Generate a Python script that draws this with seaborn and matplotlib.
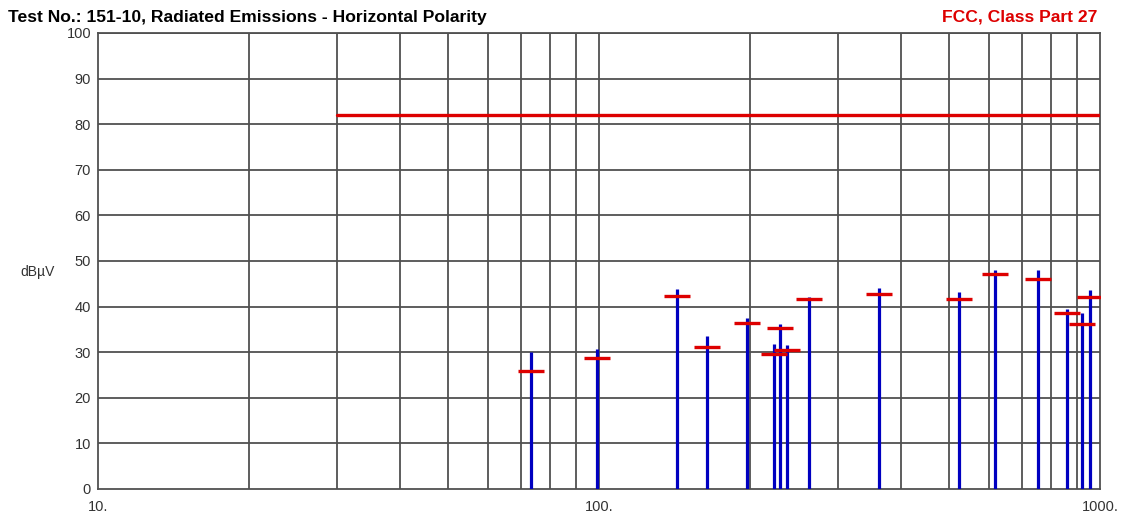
import numpy as np
import pandas as pd
import seaborn as sns
import matplotlib.pyplot as plt
from matplotlib.ticker import FixedLocator, NullLocator

# frequenze dei picchi (MHz) e livelli
freq = [73.1, 99.0, 142.9, 164.3, 197.2, 223.2, 229.8, 237.6, 262.1,
        361.7, 523.1, 618.0, 751.7, 859.5, 920.6, 953.6]
picco = [30.1, 30.8, 43.9, 33.5, 37.5, 31.8, 36.2, 31.5, 42.1,
         44.0, 43.1, 48.0, 48.0, 39.4, 38.7, 43.7]
quasi_picco = [25.8, 28.8, 42.3, 31.2, 36.3, 29.6, 35.3, 30.5, 41.6,
               42.8, 41.7, 47.1, 46.1, 38.5, 36.1, 42.1]

limite_freq = [30, 1000]
limite_val = [82, 82]

x_ticks = [10, 100, 1000]
x_labels = ["10.", "100.", "1000."]
y_ticks = list(range(0, 101, 10))

sns.set_style("white")
plt.rcParams["font.family"] = ["Liberation Sans", "DejaVu Sans"]

fig = plt.figure(figsize=(11.22, 5.15), dpi=100)
ax = fig.add_axes([0.0873, 0.0505, 0.8931, 0.8855])

ax.set_xscale("log")
ax.set_xlim(10, 1000)
ax.set_ylim(0, 100)

# griglia
griglia_x = [20, 30, 40, 50, 60, 70, 80, 90, 100, 200, 300, 400, 500, 600, 700, 800, 900]
for gx in griglia_x:
    ax.axvline(gx, color="#505050", lw=1.3, zorder=1)
for gy in y_ticks[1:]:
    ax.axhline(gy, color="#505050", lw=1.3, zorder=1)

df = pd.DataFrame({"freq": freq, "picco": picco, "qp": quasi_picco})

# limite
sns.lineplot(x=limite_freq, y=limite_val, ax=ax, color="#dd0000", lw=2.4, zorder=3)

# picchi
ax.vlines(df["freq"], 0, df["picco"], color="#0000c0", lw=2.3, zorder=4)
sns.scatterplot(data=df, x="freq", y="qp", ax=ax, marker="_", s=340,
                color="#dd0000", linewidth=2.4, zorder=5, legend=False)

for s in ax.spines.values():
    s.set_color("#505050")
    s.set_linewidth(1.3)

ax.xaxis.set_major_locator(FixedLocator(x_ticks))
ax.xaxis.set_minor_locator(NullLocator())
ax.set_xticklabels(x_labels)
ax.set_yticks(y_ticks)
ax.tick_params(length=0, labelsize=10.5, colors="#333333")
ax.tick_params(axis="x", pad=8)
ax.tick_params(axis="y", pad=5)
ax.set_xlabel("")
ax.set_ylabel("")

fig.text(0.018, 0.472, "dBµV", fontsize=10, color="#333333", ha="left", va="center")
fig.text(0.007, 0.958, "Test No.: 151-10, Radiated Emissions - Horizontal Polarity",
         fontsize=12.6, fontweight="bold", color="black", ha="left", va="baseline")
fig.text(0.978, 0.958, "FCC, Class Part 27", fontsize=12.6, fontweight="bold",
         color="#dd0000", ha="right", va="baseline")

fig.savefig("out.png", dpi=100)
